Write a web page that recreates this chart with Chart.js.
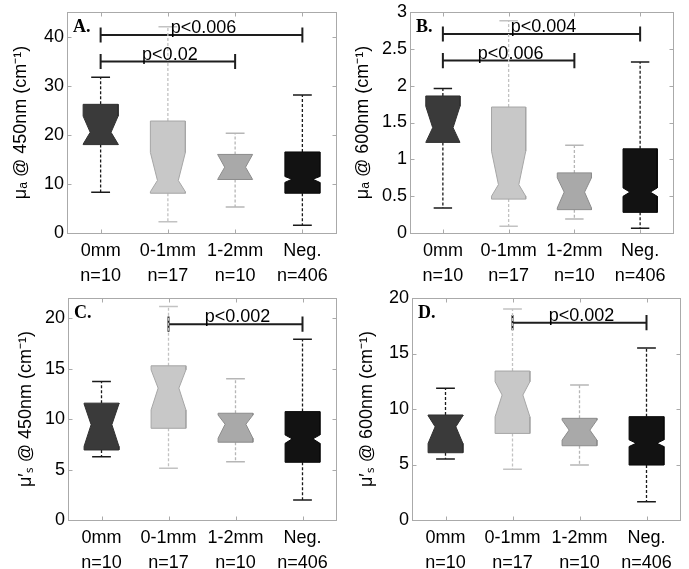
<!DOCTYPE html>
<html>
<head>
<meta charset="utf-8">
<script src="https://cdn.jsdelivr.net/npm/chart.js@4.4.1/dist/chart.umd.min.js"></script>
<style>
  body { margin: 0; background: #fff; }
  #wrap { position: relative; width: 689px; height: 569px; }
  .panel { position: absolute; }
</style>
</head>
<body>
<div id="wrap">
  <div class="panel" style="left:0;top:0;width:345px;height:285px"><canvas id="chartA"></canvas></div>
  <div class="panel" style="left:345px;top:0;width:344px;height:285px"><canvas id="chartB"></canvas></div>
  <div class="panel" style="left:0;top:285px;width:345px;height:284px"><canvas id="chartC"></canvas></div>
  <div class="panel" style="left:345px;top:285px;width:344px;height:284px"><canvas id="chartD"></canvas></div>
</div>
<script>
const categories = ['0mm', '0-1mm', '1-2mm', 'Neg.'];
const counts = ['n=10', 'n=17', 'n=10', 'n=406'];

// A: mu_a @ 450nm
const whiskerHiA = [31.7, 42.0, 20.3, 28.1];
const q3A        = [26.2, 22.8, 16.0, 16.5];
const notchHiA   = [23.8, 16.4, 16.0, 11.5];
const medianA    = [20.5, 10.7, 13.4, 10.95];
const notchLoA   = [18.1, 8.4, 10.9, 10.3];
const q1A        = [18.0, 8.1, 10.9, 8.1];
const whiskerLoA = [8.3, 2.3, 5.3, 1.6];
const yTicksA = [0, 10, 20, 30, 40];
const sigFromA = [1, 1];
const sigToA = [4, 3];
const sigYA = [40.3, 34.9];
const sigLabelA = ['p<0.006', 'p<0.02'];

// B: mu_a @ 600nm
const whiskerHiB = [1.96, 2.88, 1.19, 2.32];
const q3B        = [1.86, 1.71, 0.816, 1.143];
const notchHiB   = [1.72, 1.11, 0.75, 0.612];
const medianB    = [1.43, 0.657, 0.555, 0.555];
const notchLoB   = [1.23, 0.50, 0.34, 0.498];
const q1B        = [1.23, 0.46, 0.317, 0.28];
const whiskerLoB = [0.34, 0.09, 0.19, 0.063];
const yTicksB = [0, 0.5, 1, 1.5, 2, 2.5, 3];
const sigFromB = [1, 1];
const sigToB = [4, 3];
const sigYB = [2.70, 2.34];
const sigLabelB = ['p<0.004', 'p<0.006'];

// C: mu_s' @ 450nm
const whiskerHiC = [13.72, 21.16, 13.99, 17.92];
const q3C        = [11.58, 15.28, 10.58, 10.74];
const notchHiC   = [11.5, 14.88, 10.4, 8.43];
const medianC    = [9.45, 13.07, 9.49, 8.04];
const notchLoC   = [7.3, 10.91, 8.1, 7.6];
const q1C        = [6.94, 9.09, 7.71, 5.72];
const whiskerLoC = [6.28, 5.13, 5.78, 1.98];
const yTicksC = [0, 5, 10, 15, 20];
const sigFromC = [2];
const sigToC = [4];
const sigYC = [19.41];
const sigLabelC = ['p<0.002'];

// D: mu_s' @ 600nm
const whiskerHiD = [11.86, 19.0, 12.16, 15.5];
const q3D        = [9.46, 13.42, 9.16, 9.31];
const notchHiD   = [9.4, 12.46, 9.0, 7.22];
const medianD    = [8.4, 11.26, 8.1, 6.92];
const notchLoD   = [6.9, 9.3, 7.2, 6.62];
const q1D        = [6.06, 7.8, 6.69, 4.95];
const whiskerLoD = [5.5, 4.57, 4.95, 1.65];
const yTicksD = [0, 5, 10, 15, 20];
const sigFromD = [2];
const sigToD = [4];
const sigYD = [17.78];
const sigLabelD = ['p<0.002'];

const boxFill = ['#3a3a3a', '#c8c8c8', '#a9a9a9', '#121212'];
const boxEdge = ['#303030', '#a6a6a6', '#8c8c8c', '#0a0a0a'];
const whiskerColor = ['#1a1a1a', '#c2c2c2', '#b6b6b6', '#1a1a1a'];
const hw = 0.26, nw = 0.155, cw = 0.14;

Chart.defaults.font.family = '"Liberation Sans", Arial, sans-serif';
Chart.defaults.font.size = 18;
Chart.defaults.color = '#000';

function buildDatasets(p) {
  const sets = [];
  categories.forEach((c, i) => {
    const x = i + 1;
    const q1 = p.q1[i], q3 = p.q3[i], med = p.median[i];
    const nLo = Math.max(p.notchLo[i], q1), nHi = Math.min(p.notchHi[i], q3);
    const hi = p.whiskerHi[i], lo = p.whiskerLo[i];
    sets.push({
      data: [
        {x: x - hw, y: q1}, {x: x - hw, y: nLo}, {x: x - nw, y: med}, {x: x - hw, y: nHi}, {x: x - hw, y: q3},
        {x: x + hw, y: q3}, {x: x + hw, y: nHi}, {x: x + nw, y: med}, {x: x + hw, y: nLo}, {x: x + hw, y: q1},
        {x: x - hw, y: q1}
      ],
      fill: 'shape', backgroundColor: boxFill[i], borderColor: boxEdge[i], borderWidth: 1
    });
    sets.push({
      data: [{x: x, y: q3}, {x: x, y: hi}, {x: x, y: null}, {x: x, y: q1}, {x: x, y: lo}],
      fill: false, borderColor: whiskerColor[i], borderWidth: 1.3, borderDash: [3, 2]
    });
    sets.push({
      data: [{x: x - cw, y: hi}, {x: x + cw, y: hi}, {x: x, y: null}, {x: x - cw, y: lo}, {x: x + cw, y: lo}],
      fill: false, borderColor: whiskerColor[i], borderWidth: 1.5
    });
  });
  const t = p.yMax * 0.034;
  p.sigLabel.forEach((lab, k) => {
    const a = p.sigFrom[k], b = p.sigTo[k], y = p.sigY[k];
    sets.push({
      data: [{x: a, y: y - t}, {x: a, y: y + t}, {x: a, y: null},
             {x: a, y: y}, {x: b, y: y}, {x: b, y: null},
             {x: b, y: y - t}, {x: b, y: y + t}],
      fill: false, borderColor: '#1e1e1e', borderWidth: 2
    });
  });
  return sets;
}

const panelDecor = {
  id: 'panelDecor',
  afterDraw(chart, args, opts) {
    const {ctx, chartArea: a, scales: {x, y}} = chart;
    ctx.save();
    ctx.strokeStyle = '#aaaaaa';
    ctx.lineWidth = 1;
    const L = Math.round(a.left) + 0.5, R = Math.round(a.right) + 0.5;
    const T = Math.round(a.top) + 0.5, B = Math.round(a.bottom) + 0.5;
    ctx.strokeRect(L, T, R - L, B - T);
    ctx.beginPath();
    y.ticks.forEach(tk => {
      const py = Math.round(y.getPixelForValue(tk.value)) + 0.5;
      ctx.moveTo(L, py); ctx.lineTo(L + 4, py);
      ctx.moveTo(R, py); ctx.lineTo(R - 4, py);
    });
    x.ticks.forEach(tk => {
      const px = Math.round(x.getPixelForValue(tk.value)) + 0.5;
      ctx.moveTo(px, B); ctx.lineTo(px, B - 4);
      ctx.moveTo(px, T); ctx.lineTo(px, T + 4);
    });
    ctx.stroke();
    ctx.fillStyle = '#000';
    ctx.textBaseline = 'alphabetic';
    ctx.textAlign = 'left';
    ctx.font = 'bold 18px "Liberation Serif", "Times New Roman", serif';
    ctx.fillText(opts.letter, a.left + 6, a.top + 20);
    ctx.font = '18px "Liberation Sans", Arial, sans-serif';
    ctx.textAlign = 'center';
    opts.sigLabel.forEach((lab, k) => {
      const px = (x.getPixelForValue(opts.sigFrom[k]) + x.getPixelForValue(opts.sigTo[k])) / 2 + 2;
      const py = y.getPixelForValue(opts.sigY[k]) - 2;
      ctx.fillText(lab, px, py);
    });
    ctx.restore();
  }
};

function makeChart(id, p) {
  return new Chart(document.getElementById(id), {
    type: 'line',
    data: { datasets: buildDatasets(p) },
    options: {
      responsive: true,
      maintainAspectRatio: false,
      animation: false,
      events: [],
      layout: { padding: { top: p.padTop, right: p.padRight, left: 0, bottom: 0 } },
      elements: { point: { radius: 0, hoverRadius: 0 }, line: { tension: 0, borderCapStyle: 'butt' } },
      plugins: {
        legend: { display: false },
        tooltip: { enabled: false },
        panelDecor: { letter: p.letter, sigFrom: p.sigFrom, sigTo: p.sigTo, sigY: p.sigY, sigLabel: p.sigLabel }
      },
      scales: {
        x: {
          type: 'linear', min: 0.5, max: 4.5,
          grid: { display: false, drawTicks: false },
          border: { display: false },
          afterBuildTicks: s => { s.ticks = categories.map((c, i) => ({ value: i + 1 })); },
          afterFit: s => { s.height = p.xHeight; s.paddingLeft = 0; s.paddingRight = 0; },
          ticks: {
            padding: 6, autoSkip: false, maxRotation: 0,
            font: { size: 18, lineHeight: 1.38 },
            callback: v => [categories[v - 1], counts[v - 1]]
          }
        },
        y: {
          type: 'linear', min: 0, max: p.yMax,
          grid: { display: false, drawTicks: false },
          border: { display: false },
          afterBuildTicks: s => { s.ticks = p.yTicks.map(v => ({ value: v })); },
          afterFit: s => { s.width = p.yWidth; s.paddingTop = 0; s.paddingBottom = 0; },
          ticks: { padding: 3, font: { size: 18 }, callback: v => String(v) },
          title: { display: true, text: p.yTitle, font: { size: 18 }, padding: { top: p.titlePad, bottom: 0 } }
        }
      }
    },
    plugins: [panelDecor]
  });
}

makeChart('chartA', {
  letter: 'A.', yTitle: 'μₐ @ 450nm (cm⁻¹)', yMax: 45, yTicks: yTicksA,
  whiskerHi: whiskerHiA, q3: q3A, notchHi: notchHiA, median: medianA, notchLo: notchLoA, q1: q1A, whiskerLo: whiskerLoA,
  sigFrom: sigFromA, sigTo: sigToA, sigY: sigYA, sigLabel: sigLabelA,
  padTop: 12, padRight: 9, yWidth: 67, xHeight: 52, titlePad: 10
});
makeChart('chartB', {
  letter: 'B.', yTitle: 'μₐ @ 600nm (cm⁻¹)', yMax: 3, yTicks: yTicksB,
  whiskerHi: whiskerHiB, q3: q3B, notchHi: notchHiB, median: medianB, notchLo: notchLoB, q1: q1B, whiskerLo: whiskerLoB,
  sigFrom: sigFromB, sigTo: sigToB, sigY: sigYB, sigLabel: sigLabelB,
  padTop: 12, padRight: 16, yWidth: 65, xHeight: 52, titlePad: 7
});
makeChart('chartC', {
  letter: 'C.', yTitle: 'μ′ₛ @ 450nm (cm⁻¹)', yMax: 22, yTicks: yTicksC,
  whiskerHi: whiskerHiC, q3: q3C, notchHi: notchHiC, median: medianC, notchLo: notchLoC, q1: q1C, whiskerLo: whiskerLoC,
  sigFrom: sigFromC, sigTo: sigToC, sigY: sigYC, sigLabel: sigLabelC,
  padTop: 13, padRight: 9, yWidth: 68, xHeight: 49, titlePad: 15
});
makeChart('chartD', {
  letter: 'D.', yTitle: 'μ′ₛ @ 600nm (cm⁻¹)', yMax: 20, yTicks: yTicksD,
  whiskerHi: whiskerHiD, q3: q3D, notchHi: notchHiD, median: medianD, notchLo: notchLoD, q1: q1D, whiskerLo: whiskerLoD,
  sigFrom: sigFromD, sigTo: sigToD, sigY: sigYD, sigLabel: sigLabelD,
  padTop: 13, padRight: 9, yWidth: 67, xHeight: 49, titlePad: 11
});
</script>
</body>
</html>
